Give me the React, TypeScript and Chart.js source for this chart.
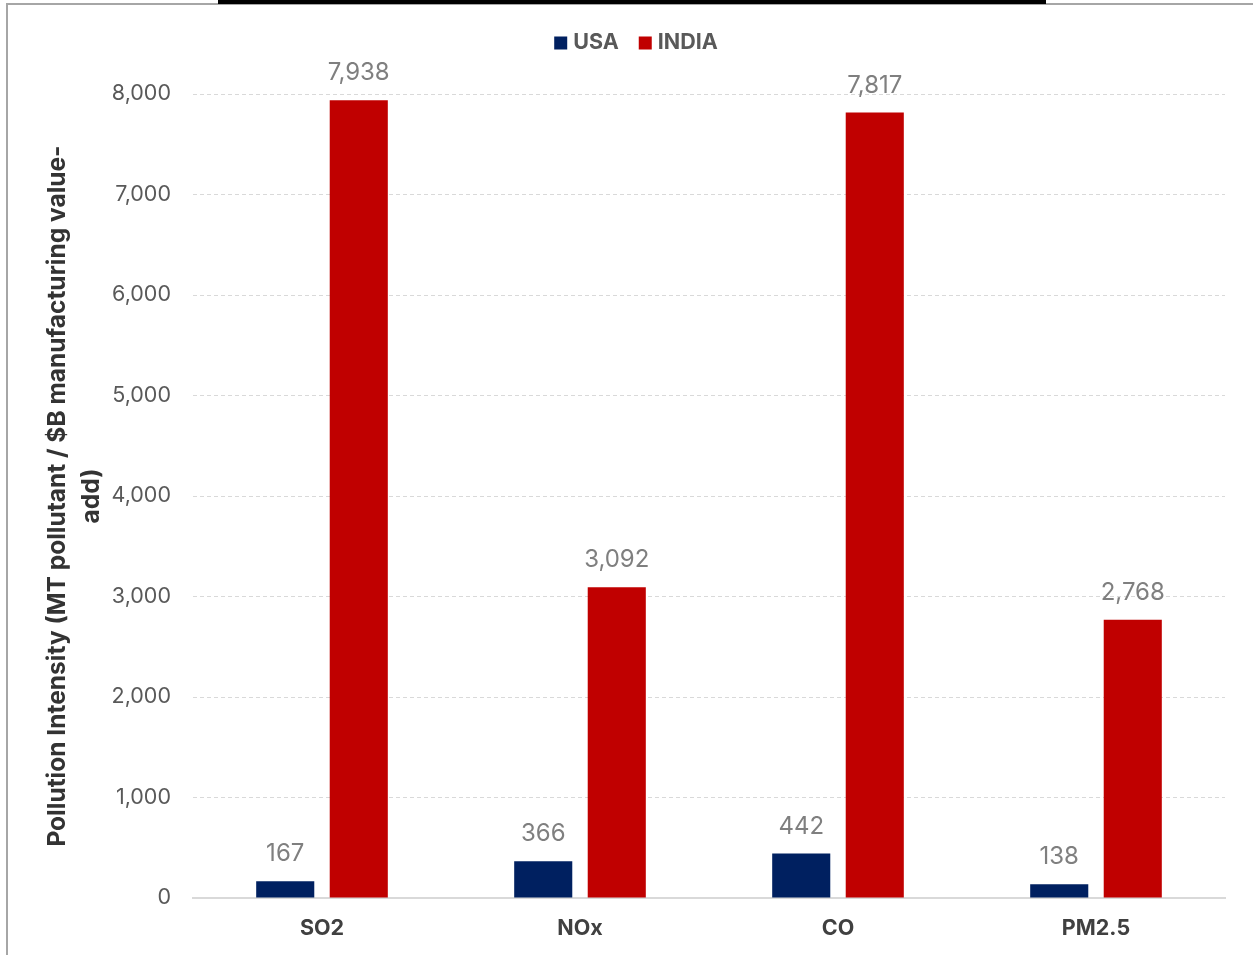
import React, { useEffect, useRef } from "react";
import { Chart, registerables } from "chart.js";

Chart.register(...registerables);

const categories = ["SO2", "NOx", "CO", "PM2.5"];
const usaValues = [167, 366, 442, 138];
const indiaValues = [7938, 3092, 7817, 2768];
const seriesNames = ["USA", "INDIA"];
const yTicksMax = 8000;
const yTickStep = 1000;
const yTitle = ["Pollution Intensity (MT pollutant / $B manufacturing value-", "add)"];

const FONT = "Inter, 'Open Sans', sans-serif";

const dataLabelPlugin = {
  id: "dataLabels",
  afterDatasetsDraw(chart: any) {
    const ctx = chart.ctx;
    ctx.save();
    ctx.font = `400 24px ${FONT}`;
    ctx.fillStyle = "#7f7f7f";
    ctx.textAlign = "center";
    ctx.textBaseline = "middle";
    chart.data.datasets.forEach((ds: any, i: number) => {
      const meta = chart.getDatasetMeta(i);
      meta.data.forEach((bar: any, j: number) => {
        const v = ds.data[j];
        ctx.fillText(v.toLocaleString("en-US"), bar.x, bar.y - 27);
      });
    });
    ctx.restore();
  },
};

const legendPlugin = {
  id: "customLegend",
  afterDraw(chart: any) {
    const ctx = chart.ctx;
    ctx.save();
    ctx.font = `700 21.5px ${FONT}`;
    ctx.textBaseline = "middle";
    const box = 13;
    const gapBoxText = 6;
    const gapItems = 20;
    const items = chart.data.datasets.map((ds: any) => ({
      label: ds.label,
      color: ds.backgroundColor,
      w: ctx.measureText(ds.label).width,
    }));
    let total = 0;
    items.forEach((it: any, i: number) => {
      total += box + gapBoxText + it.w + (i < items.length - 1 ? gapItems : 0);
    });
    let x = 636 - total / 2;
    const y = 43;
    items.forEach((it: any) => {
      ctx.fillStyle = it.color;
      ctx.fillRect(x, y - box / 2, box, box);
      x += box + gapBoxText;
      ctx.fillStyle = "#595959";
      ctx.fillText(it.label, x, y);
      x += it.w + gapItems;
    });
    ctx.restore();
  },
};

export default function App() {
  const ref = useRef<HTMLCanvasElement | null>(null);

  useEffect(() => {
    if (!ref.current) return;
    const chart = new Chart(ref.current, {
      type: "bar",
      data: {
        labels: categories,
        datasets: [
          { label: seriesNames[0], data: usaValues, backgroundColor: "#002060" },
          { label: seriesNames[1], data: indiaValues, backgroundColor: "#C00000" },
        ],
      },
      options: {
        animation: false,
        responsive: false,
        maintainAspectRatio: false,
        layout: { padding: { top: 94, right: 28, bottom: 0, left: 0 } },
        plugins: {
          legend: { display: false },
          tooltip: { enabled: false },
        },
        datasets: {
          bar: { categoryPercentage: 0.57, barPercentage: 0.79 },
        },
        scales: {
          x: {
            grid: { display: false, drawTicks: false },
            border: { display: true, color: "#d9d9d9", width: 2 },
            ticks: {
              padding: 18,
              color: "#404040",
              font: { family: FONT, size: 21.5, weight: "bold" },
            },
            afterFit(scale: any) {
              scale.height = 57;
            },
          },
          y: {
            min: 0,
            max: yTicksMax,
            ticks: {
              stepSize: yTickStep,
              padding: 22,
              color: "#595959",
              font: { family: FONT, size: 21.5 },
            },
            grid: { color: "#d9d9d9", lineWidth: 1, drawTicks: false },
            border: { display: false, dash: [4, 3] },
            title: {
              display: true,
              text: yTitle,
              color: "#333333",
              font: { family: FONT, size: 24.5, weight: "bold", lineHeight: 1.39 },
              padding: { top: 41, bottom: 0 },
            },
            afterFit(scale: any) {
              scale.width = 193;
            },
          },
        },
      },
      plugins: [dataLabelPlugin, legendPlugin],
    });
    return () => chart.destroy();
  }, []);

  return (
    <div style={{ position: "fixed", left: 0, top: 0, width: 1253, height: 955, background: "#fff", overflow: "hidden" }}>
      <div style={{ position: "absolute", left: 6, top: 3, width: 1247, height: 2, background: "#a6a6a6" }} />
      <div style={{ position: "absolute", left: 6, top: 3, width: 2, height: 952, background: "#a6a6a6" }} />
      <div style={{ position: "absolute", left: 218, top: 0, width: 828, height: 4, background: "#000" }} />
      <canvas ref={ref} width={1253} height={955} style={{ position: "absolute", left: 0, top: 0, width: 1253, height: 955 }} />
    </div>
  );
}
